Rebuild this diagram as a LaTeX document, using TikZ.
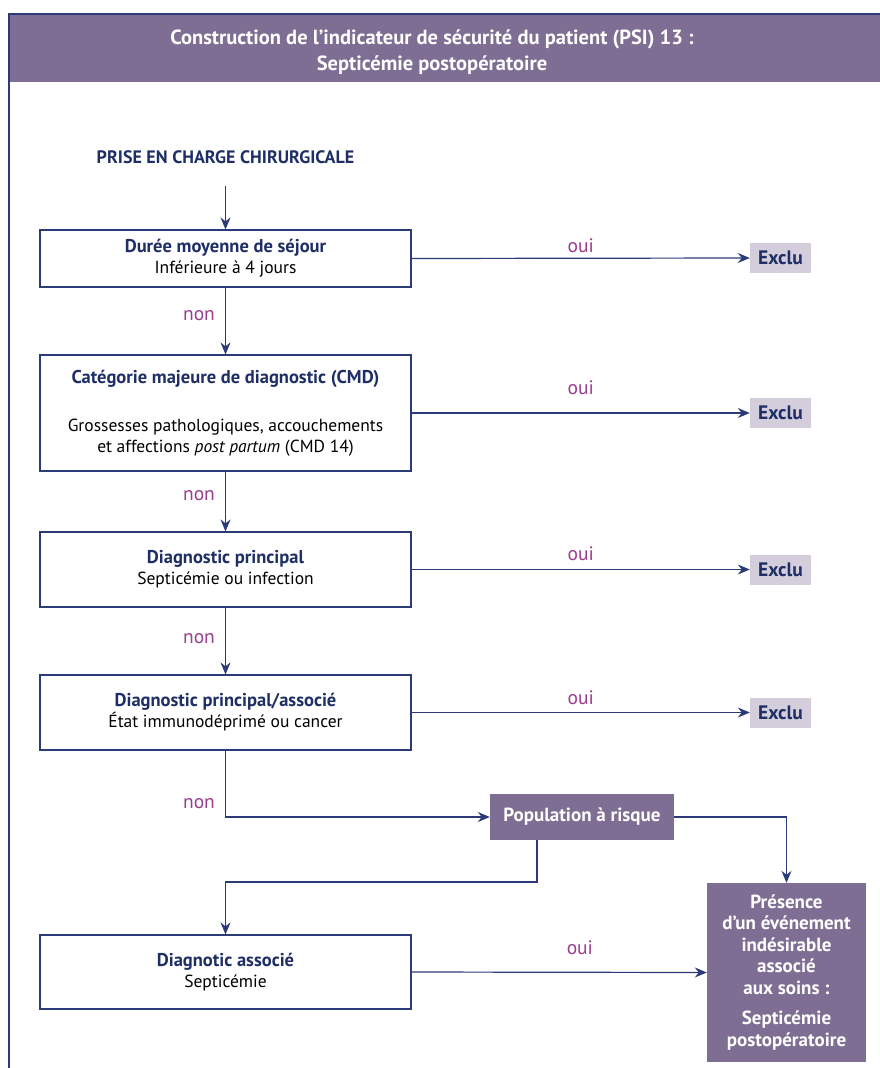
\documentclass[tikz,border=0pt]{standalone}
\usepackage{fontspec}
\setmainfont{PT Sans}
\usetikzlibrary{arrows.meta,calc}

\definecolor{navy}{HTML}{1F2F66}
\definecolor{linecol}{HTML}{2B3B78}
\definecolor{ouinon}{HTML}{993D8E}
\definecolor{mauve}{HTML}{7E6E93}
\definecolor{lilas}{HTML}{D4CEDC}

\newcommand{\titrebloc}[1]{\textcolor{navy}{\bfseries\fontsize{18.5}{21}\selectfont #1}}

\begin{document}
\begin{tikzpicture}[x=1pt,y=-1pt,
	critere/.style={draw=linecol, line width=1.2pt, fill=white, minimum width=371pt,
		align=center, inner sep=0pt, font=\fontsize{17.5}{21}\selectfont},
	exclu/.style={fill=lilas, text=navy, minimum width=61pt, minimum height=30pt,
		inner sep=0pt, font=\bfseries\fontsize{19.5}{20}\selectfont},
	resultat/.style={fill=mauve, text=white, align=center, inner sep=0pt,
		font=\bfseries\fontsize{19}{21.5}\selectfont},
	reponse/.style={text=ouinon, inner sep=0pt, font=\fontsize{19.5}{20}\selectfont},
	fleche/.style={draw=linecol, line width=1.2pt, -{Stealth[length=12pt,width=10pt,inset=4pt]}},
	trait/.style={draw=linecol, line width=1.2pt}]
	\useasboundingbox (0,0) rectangle (880,1068);
	
	\def\cx{225.5} % centre of the left column
	\def\ex{780.5} % centre of the Exclu boxes
	
	% frame and header
	\fill[mauve] (9,14) rectangle (880,82);
	\draw[trait] (9,1068) -- (9,14) -- (880,14);
	\node[text=white, align=center, font=\bfseries\fontsize{20.5}{26}\selectfont] (titre) at (432,52)
		{Construction de l’indicateur de sécurité du patient (PSI) 13~:\\Septicémie postopératoire};
	
	% left column
	\node[text=navy, inner sep=0pt, font=\bfseries\fontsize{18}{20}\selectfont] (prise) at (\cx,157) {PRISE EN CHARGE CHIRURGICALE};
	\node[critere, minimum height=57pt] (duree) at (\cx,258.5)
		{\titrebloc{Durée moyenne de séjour}\\Inférieure à 4 jours};
	\node[critere, minimum height=116pt] (cmd) at (\cx,413)
		{\titrebloc{Catégorie majeure de diagnostic (CMD)}\\[27pt]Grossesses pathologiques, accouchements\\et affections \textit{post partum} (CMD 14)};
	\node[critere, minimum height=75pt] (dp) at (\cx,569.5)
		{\titrebloc{Diagnostic principal}\\Septicémie ou infection};
	\node[critere, minimum height=75pt] (dpa) at (\cx,712.5)
		{\titrebloc{Diagnostic principal/associé}\\État immunodéprimé ou cancer};
	\node[critere, minimum height=74pt] (da) at (\cx,972)
		{\titrebloc{Diagnotic associé}\\Septicémie};
	
	% Exclu boxes
	\node[exclu] (exclu1) at (\ex,258) {Exclu};
	\node[exclu] (exclu2) at (\ex,413) {Exclu};
	\node[exclu] (exclu3) at (\ex,569.5) {Exclu};
	\node[exclu] (exclu4) at (\ex,712.5) {Exclu};
	
	% population and outcome
	\node[resultat, minimum width=184pt, minimum height=46pt] (pop) at (582,817) {Population à risque};
	\node[resultat, minimum width=159pt, minimum height=179pt] (pres) at (786.5,972.5)
		{Présence\\d’un événement\\indésirable\\associé\\aux soins~:\\[9pt]Septicémie\\postopératoire};
	\coordinate (coude) at (\cx,882);
	
	% non
	\draw[fleche, shorten <=22pt] (prise.south) -- (duree.north);
	\draw[fleche] (duree.south) -- node[reponse, pos=0.42, left=10pt] {non} (cmd.north);
	\draw[fleche] (cmd.south) -- node[reponse, pos=0.40, left=10pt] {non} (dp.north);
	\draw[fleche] (dp.south) -- node[reponse, pos=0.47, left=10pt] {non} (dpa.north);
	\draw[fleche] (dpa.south) |- node[reponse, pos=0.40, left=10pt] {non} (pop.west);
	
	% oui
	\draw[fleche] (duree.east) -- node[reponse, above=5pt] {oui} (exclu1.west);
	\draw[fleche] (cmd.east) -- node[reponse, above=18pt] {oui} (exclu2.west);
	\draw[fleche] (dp.east) -- node[reponse, above=8pt] {oui} (exclu3.west);
	\draw[fleche] (dpa.east) -- node[reponse, above=7pt] {oui} (exclu4.west);
	\draw[fleche] (da.east) -- node[reponse, pos=0.57, above=17pt] {oui} (pres.west);
	
	% from the population at risk
	\draw[fleche] (pop.east) -| (pres.north);
	\draw[fleche] ([xshift=-45pt]pop.south) |- (coude) -- (da.north);
\end{tikzpicture}
\end{document}
